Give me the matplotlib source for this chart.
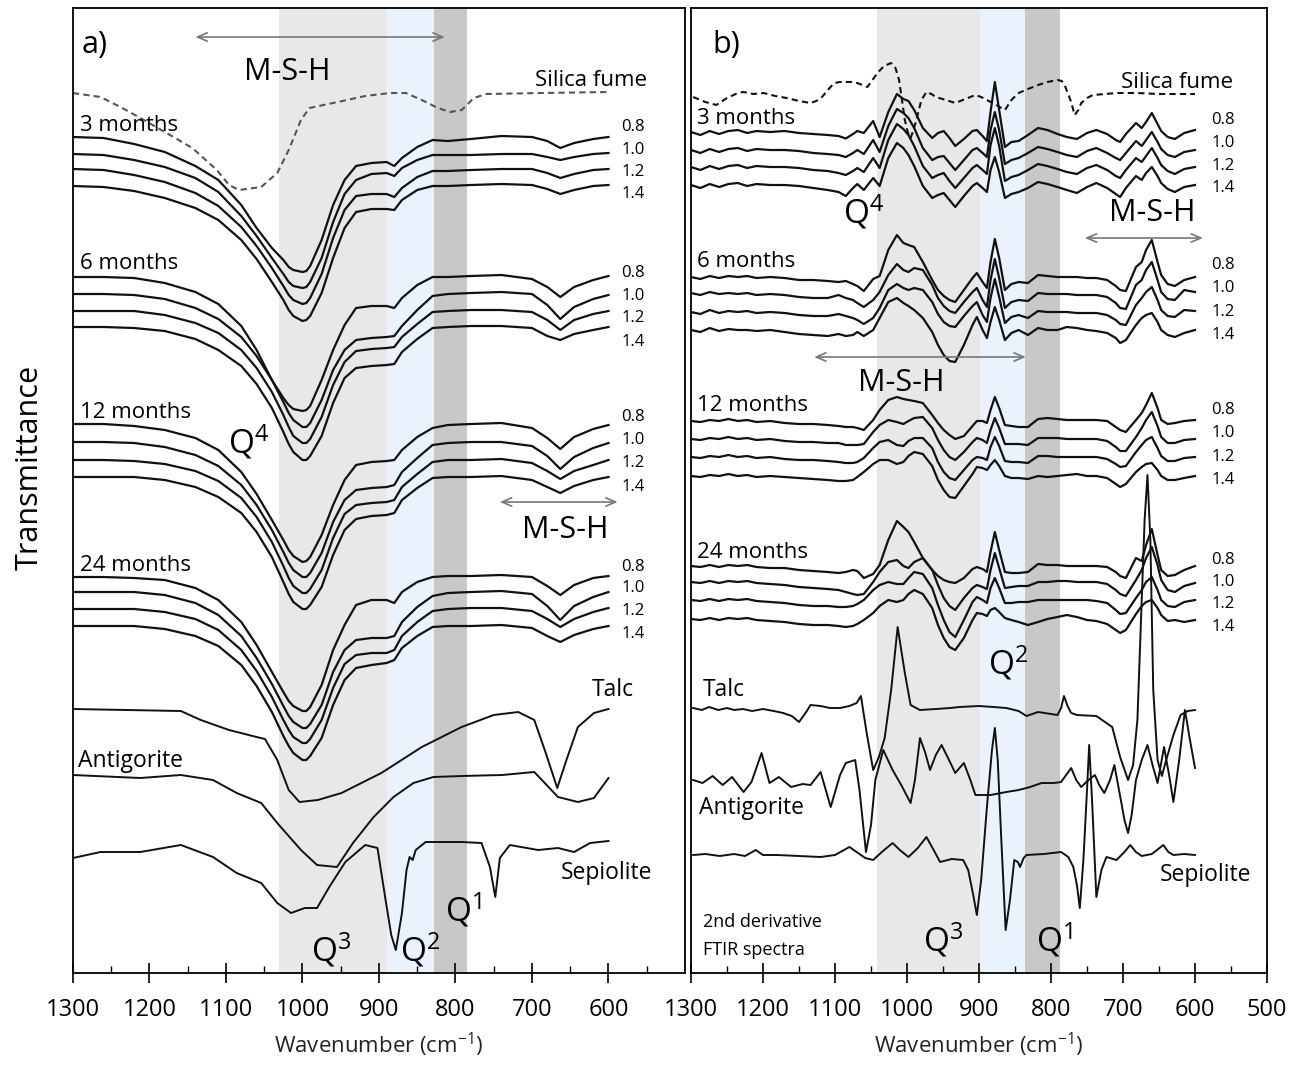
import matplotlib
matplotlib.use("Agg")
import matplotlib.pyplot as plt

plt.rcParams['font.family'] = ['Open Sans', 'DejaVu Sans']
plt.rcParams['mathtext.fontset'] = 'custom'
plt.rcParams['mathtext.rm'] = 'Open Sans'
plt.rcParams['mathtext.it'] = 'Open Sans:italic'
plt.rcParams['mathtext.bf'] = 'Open Sans:bold'
plt.rcParams['lines.solid_joinstyle'] = 'round'
plt.rcParams['lines.dash_joinstyle'] = 'round'

# ---------------------------------------------------------------
# stacked spectra, offset units grow downwards (y axis is inverted)
# ---------------------------------------------------------------

## a) FTIR spectra, common wavenumber grid
wn_a = [1300, 1260, 1220, 1180, 1140, 1110, 1080, 1060, 1040, 1025, 1018, 1012, 1000, 995, 990, 975,
        960, 945, 930, 910, 890, 880, 870, 850, 830, 810, 780, 740, 700, 680, 663, 645, 620, 600]

a_3m_08 = [137, 138, 144, 152, 166, 180, 205, 228, 248, 260, 267, 270, 272, 271, 266, 240,
           205, 180, 166, 163, 162, 166, 158, 147, 140, 141, 139, 136, 137, 141, 148, 143, 139, 137]
a_3m_10 = [154, 155, 160, 167, 178, 192, 216, 236, 258, 274, 282, 286, 288, 287, 282, 258,
           222, 194, 180, 174, 173, 176, 168, 160, 155, 155, 155, 154, 154, 157, 160, 157, 154, 153]
a_3m_12 = [169, 170, 175, 182, 193, 206, 227, 246, 268, 286, 295, 300, 304, 303, 298, 274,
           238, 210, 196, 194, 194, 197, 188, 177, 171, 171, 170, 169, 169, 173, 178, 174, 170, 169]
a_3m_14 = [186, 187, 191, 198, 208, 220, 240, 259, 282, 300, 310, 316, 321, 320, 316, 293,
           258, 228, 212, 209, 209, 210, 200, 190, 186, 186, 185, 184, 185, 189, 194, 190, 186, 185]

a_6m_08 = [277, 277, 278, 283, 292, 304, 326, 350, 380, 398, 405, 409, 411, 410, 406, 380,
           350, 325, 308, 306, 306, 308, 298, 285, 277, 277, 276, 275, 279, 287, 297, 287, 280, 276]
a_6m_10 = [294, 294, 295, 299, 308, 319, 337, 356, 380, 402, 413, 420, 427, 427, 423, 400,
           370, 350, 340, 338, 337, 336, 326, 310, 296, 294, 293, 292, 294, 305, 319, 307, 299, 295]
a_6m_12 = [311, 311, 311, 315, 323, 333, 350, 368, 392, 415, 427, 436, 443, 443, 439, 417,
           385, 362, 351, 349, 348, 347, 337, 324, 312, 311, 310, 310, 312, 320, 330, 320, 314, 311]
a_6m_14 = [327, 327, 328, 331, 339, 350, 366, 384, 408, 432, 444, 452, 460, 460, 456, 436,
           403, 378, 368, 366, 365, 364, 352, 339, 328, 327, 326, 326, 328, 336, 340, 334, 330, 327]

a_12m_08 = [424, 424, 426, 430, 438, 450, 472, 494, 520, 540, 550, 556, 562, 561, 557, 535,
            505, 480, 465, 462, 461, 460, 450, 437, 428, 425, 424, 423, 428, 438, 449, 437, 429, 425]
a_12m_10 = [442, 442, 443, 447, 455, 466, 485, 505, 530, 552, 563, 570, 577, 577, 573, 553,
            522, 500, 490, 488, 487, 485, 472, 458, 445, 443, 442, 442, 446, 456, 469, 457, 448, 443]
a_12m_12 = [460, 460, 461, 464, 471, 481, 498, 517, 542, 566, 578, 586, 593, 593, 589, 570,
            538, 514, 505, 503, 502, 500, 487, 474, 462, 460, 460, 459, 463, 471, 479, 471, 465, 460]
a_12m_14 = [477, 477, 477, 480, 487, 497, 513, 532, 557, 582, 594, 602, 609, 609, 605, 587,
            555, 530, 519, 516, 515, 513, 500, 488, 478, 477, 477, 476, 480, 487, 493, 486, 480, 477]

a_24m_08 = [577, 577, 578, 580, 588, 600, 622, 645, 672, 692, 701, 706, 711, 711, 707, 685,
            650, 625, 605, 600, 600, 603, 592, 582, 577, 576, 576, 575, 577, 586, 595, 585, 578, 576]
a_24m_10 = [592, 592, 592, 595, 603, 615, 636, 658, 684, 706, 716, 722, 728, 728, 724, 705,
            672, 650, 640, 638, 638, 636, 622, 607, 596, 593, 592, 591, 594, 606, 620, 606, 597, 592]
a_24m_12 = [609, 609, 609, 612, 619, 630, 650, 671, 697, 720, 730, 737, 743, 743, 739, 720,
            688, 664, 655, 653, 653, 650, 636, 622, 611, 609, 608, 608, 611, 619, 627, 619, 612, 608]
a_24m_14 = [626, 626, 626, 629, 636, 646, 665, 686, 712, 736, 746, 753, 760, 760, 756, 738,
            705, 680, 668, 665, 663, 660, 648, 636, 627, 626, 626, 625, 628, 636, 642, 635, 629, 626]

# silica fume (dashed)
wn_a_sf = [1300, 1264, 1238, 1212, 1180, 1144, 1112, 1096, 1083, 1054, 1033, 1018, 1002, 991, 960,
           918, 886, 865, 844, 823, 807, 792, 776, 760, 687, 600]
a_sf = [93, 97, 107, 118, 132, 148, 170, 185, 190, 187, 173, 150, 120, 108, 103,
        96, 93, 93, 100, 108, 112, 110, 98, 94, 93, 92]

# reference minerals
wn_a_talc = [1300, 1159, 1133, 1096, 1060, 1049, 1033, 1018, 1004, 980, 949, 897, 844, 792, 750,
             718, 697, 682, 667, 655, 640, 619, 600]
a_talc = [709, 711, 720, 730, 737, 739, 760, 790, 802, 800, 793, 773, 747, 727, 715,
          712, 720, 753, 788, 760, 727, 713, 709]

wn_a_anti = [1300, 1212, 1159, 1117, 1086, 1054, 1033, 1002, 981, 955, 934, 907, 881, 855, 829,
             792, 739, 697, 666, 640, 619, 600]
a_anti = [775, 778, 775, 780, 793, 803, 823, 850, 865, 867, 843, 817, 797, 783, 777,
          776, 775, 772, 797, 802, 798, 778]

wn_a_sep = [1300, 1264, 1212, 1159, 1117, 1086, 1054, 1033, 1015, 997, 981, 965, 944, 918, 902,
            892, 884, 878, 870, 864, 860, 856, 852, 839, 792, 766, 755, 748, 742, 729, 692,
            666, 645, 624, 600]
a_sep = [858, 852, 852, 845, 857, 873, 883, 903, 913, 908, 908, 887, 862, 845, 848,
         897, 935, 950, 913, 870, 857, 860, 850, 842, 842, 843, 867, 897, 858, 845, 850,
         848, 852, 843, 841]

## b) 2nd derivative spectra, common wavenumber grid
wn_b = [1300, 1287, 1274, 1261, 1248, 1235, 1222, 1209, 1190, 1170, 1150, 1130, 1110, 1095, 1085,
        1075, 1069, 1060, 1047, 1038, 1026, 1014, 1005, 998, 990, 978, 965, 957, 949, 941, 933,
        921, 909, 903, 895, 889, 884, 878, 872, 864, 855, 845, 832, 818, 805, 791, 778, 764,
        750, 737, 722, 710, 704, 696, 682, 674, 668, 660, 652, 647, 638, 628, 615, 600]

b_3m_08 = [132, 135, 131, 134, 131, 130, 133, 131, 132, 131, 133, 134, 135, 136, 138.5,
           134, 131, 133, 121, 137, 112, 94, 99, 101, 110, 128, 138, 133, 131, 138, 146,
           139, 131, 130, 136, 141, 112, 82, 110, 147, 142, 141, 135, 128, 130, 134, 137, 139,
           133, 130, 134, 140, 142, 134, 123, 128, 122, 113, 124, 131, 137, 139, 133, 130]
b_3m_10 = [150, 153, 149, 152, 149, 148, 151, 149, 150, 150, 151, 153, 154, 155, 157,
           153, 150, 154, 140, 152, 126, 109, 113, 118, 128, 148, 160, 157, 156, 163, 170,
           160, 150, 148, 153, 157, 130, 112, 130, 164, 160, 158, 153, 147, 149, 152, 155, 157,
           151, 148, 153, 158, 160, 153, 141, 146, 140, 132, 142, 149, 155, 157, 152, 150]
b_3m_12 = [167, 170, 166, 169, 166, 165, 168, 166, 167, 167, 168, 170, 171, 173, 175,
           171, 168, 172, 158, 168, 140, 124, 129, 135, 146, 166, 178, 175, 173, 181, 188,
           178, 168, 165, 170, 174, 145, 128, 146, 181, 177, 175, 170, 164, 166, 169, 172, 174,
           168, 165, 170, 176, 178, 170, 158, 162, 156, 148, 158, 165, 171, 174, 169, 167]
b_3m_14 = [185, 188, 184, 187, 184, 183, 186, 184, 185, 185, 186, 188, 190, 192, 196,
           188, 184, 190, 178, 186, 158, 143, 148, 155, 166, 186, 198, 195, 193, 200, 207,
           196, 186, 183, 188, 192, 170, 157, 172, 198, 194, 192, 188, 182, 184, 187, 190, 193,
           187, 183, 188, 194, 197, 188, 176, 180, 173, 167, 176, 183, 189, 192, 187, 185]

b_6m_08 = [277, 279, 276, 278, 276, 277, 276, 278, 277, 278, 280, 280, 281, 282, 281,
           284, 286, 291, 279, 276, 250, 235, 243, 245, 247, 262, 280, 290, 296, 300, 302,
           290, 278, 273, 282, 288, 262, 239, 258, 290, 284, 282, 283, 275, 276, 277, 277, 277,
           278, 278, 280, 286, 290, 291, 267, 262, 250, 240, 262, 275, 284, 286, 280, 277]
b_6m_10 = [293, 295, 292, 294, 293, 294, 293, 295, 294, 295, 297, 298, 298, 295, 298,
           300, 303, 307, 300, 292, 275, 264, 270, 272, 268, 270, 285, 298, 306, 311, 313,
           302, 292, 288, 300, 307, 280, 259, 278, 308, 302, 300, 301, 293, 294, 294, 294, 295,
           295, 295, 297, 303, 308, 309, 285, 280, 270, 262, 280, 292, 299, 300, 290, 292]
b_6m_12 = [312, 314, 310, 313, 311, 312, 311, 313, 312, 313, 315, 316, 316, 314, 316,
           318, 320, 324, 318, 308, 290, 284, 288, 290, 288, 290, 302, 314, 322, 326, 327,
           316, 306, 302, 315, 322, 298, 279, 297, 323, 317, 315, 318, 311, 312, 312, 312, 313,
           313, 313, 315, 320, 324, 325, 305, 298, 292, 287, 300, 310, 316, 317, 310, 311]
b_6m_14 = [330, 332, 328, 331, 329, 330, 330, 331, 330, 332, 334, 335, 336, 334, 336,
           335, 332, 336, 330, 318, 302, 298, 303, 306, 310, 318, 332, 345, 355, 361, 362,
           345, 325, 317, 330, 338, 322, 307, 320, 340, 333, 330, 335, 328, 330, 330, 327, 328,
           330, 331, 333, 338, 343, 340, 325, 318, 315, 313, 322, 330, 335, 337, 333, 330]

b_12m_08 = [421, 422, 420, 421, 419, 421, 420, 422, 421, 423, 424, 424, 425, 426, 427,
            427, 428, 430, 420, 410, 400, 397, 399, 400, 401, 403, 415, 423, 430, 435, 439,
            436, 426, 421, 421, 423, 410, 397, 408, 425, 426, 427, 427, 419, 418, 419, 420, 420,
            420, 420, 421, 427, 430, 432, 420, 413, 405, 393, 408, 420, 424, 423, 421, 420]
b_12m_10 = [439, 440, 438, 439, 437, 439, 438, 440, 439, 441, 442, 442, 443, 443, 445,
            445, 445, 444, 432, 425, 420, 422, 424, 421, 418, 417, 428, 440, 450, 457, 460,
            452, 442, 438, 440, 443, 430, 418, 428, 444, 444, 444, 445, 438, 438, 438, 439, 439,
            439, 439, 441, 447, 451, 451, 437, 428, 420, 412, 426, 437, 443, 443, 440, 439]
b_12m_12 = [457, 458, 456, 457, 455, 457, 456, 458, 457, 459, 460, 460, 461, 462, 463,
            463, 462, 458, 448, 442, 440, 445, 446, 441, 438, 438, 448, 462, 472, 478, 480,
            470, 460, 457, 458, 460, 447, 437, 446, 461, 462, 462, 463, 456, 456, 457, 457, 457,
            457, 457, 459, 464, 467, 466, 452, 445, 440, 437, 448, 456, 461, 461, 458, 457]
b_12m_14 = [476, 477, 475, 476, 474, 476, 475, 477, 476, 477, 478, 479, 480, 481, 481,
            480, 477, 472, 464, 460, 460, 464, 462, 456, 452, 454, 466, 480, 490, 497, 498,
            486, 474, 467, 468, 470, 465, 460, 466, 476, 478, 478, 479, 476, 477, 476, 475, 474,
            476, 476, 478, 484, 487, 484, 472, 467, 464, 463, 470, 476, 480, 480, 478, 476]

b_24m_08 = [566, 567, 565, 567, 565, 566, 565, 567, 568, 568, 570, 571, 572, 573, 572,
            570, 571, 578, 574, 565, 540, 521, 527, 532, 542, 558, 570, 576, 580, 582, 583,
            578, 569, 567, 569, 572, 552, 532, 550, 572, 573, 573, 572, 564, 565, 565, 566, 566,
            566, 566, 567, 572, 576, 578, 558, 561, 545, 529, 555, 570, 576, 575, 570, 566]
b_24m_10 = [582, 583, 581, 583, 581, 582, 581, 583, 584, 585, 587, 588, 589, 590, 592,
            594, 595, 594, 582, 572, 562, 560, 566, 568, 562, 558, 570, 585, 598, 606, 610,
            598, 588, 585, 587, 589, 570, 553, 568, 588, 587, 586, 586, 582, 582, 581, 581, 582,
            582, 582, 584, 590, 594, 596, 580, 570, 558, 547, 565, 580, 590, 592, 586, 583]
b_24m_12 = [600, 601, 599, 601, 599, 600, 599, 601, 602, 603, 605, 606, 606, 607, 607,
            606, 604, 600, 590, 585, 582, 584, 584, 578, 572, 574, 588, 605, 620, 632, 637,
            620, 602, 597, 600, 603, 588, 578, 588, 603, 603, 602, 602, 600, 600, 600, 600, 600,
            600, 601, 603, 610, 614, 613, 598, 590, 582, 577, 590, 600, 606, 607, 602, 600]
b_24m_14 = [619, 620, 618, 620, 618, 619, 618, 620, 621, 622, 624, 625, 625, 626, 627,
            626, 624, 620, 613, 606, 600, 602, 600, 594, 590, 594, 608, 625, 638, 647, 650,
            638, 620, 613, 614, 616, 610, 608, 612, 618, 620, 622, 625, 622, 619, 617, 615, 617,
            620, 621, 624, 630, 633, 630, 614, 606, 602, 600, 608, 615, 621, 620, 622, 620]

wn_b_sf = [1297, 1280, 1265, 1250, 1235, 1227, 1213, 1199, 1183, 1167, 1150, 1134, 1126, 1118, 1110,
           1101, 1093, 1085, 1077, 1069, 1062, 1055, 1048, 1041, 1032, 1022, 1016, 1011, 1007, 1003,
           999, 995, 991, 987, 980, 973, 966, 960, 946, 933, 919, 905, 897, 889, 876, 864, 855,
           845, 832, 818, 805, 791, 785, 780, 773, 767, 762, 758, 750, 742, 725, 709, 680, 650,
           620, 600]
b_sf = [97, 102, 105, 98, 93, 92, 94, 93, 96, 98, 101, 103, 101, 97, 90,
        83, 82, 82, 82, 83, 85, 87, 80, 73, 66, 63, 68, 80, 100, 120,
        132, 138, 130, 120, 100, 92, 94, 97, 100, 103, 99, 95, 97, 100, 105, 110, 100,
        93, 89, 85, 82, 80, 81, 87, 100, 115, 110, 103, 98, 95, 94, 93, 93, 94,
        94, 94]

wn_b_talc = [1297, 1285, 1275, 1262, 1250, 1240, 1228, 1215, 1200, 1185, 1172, 1160, 1150, 1140, 1134,
             1120, 1107, 1093, 1080, 1070, 1064, 1056, 1047, 1039, 1031, 1022, 1017, 1013, 1008, 1003,
             995, 982, 960, 940, 927, 900, 880, 862, 845, 834, 818, 800, 791, 786, 782, 777, 772,
             764, 737, 715, 704, 693, 686, 680, 674, 670, 666, 662, 658, 652, 646, 640, 630, 620,
             610, 600]
b_talc = [708, 710, 707, 710, 708, 710, 709, 711, 709, 711, 713, 716, 722, 712, 705,
          706, 708, 708, 706, 703, 696, 733, 770, 757, 738, 690, 655, 627, 650, 673,
          705, 710, 709, 708, 707, 706, 707, 708, 711, 716, 712, 714, 715, 708, 696, 706, 713,
          715, 716, 727, 757, 780, 765, 720, 600, 520, 475, 540, 690, 760, 776, 760, 735, 715,
          711, 710]

wn_b_anti = [1297, 1284, 1270, 1256, 1243, 1227, 1216, 1202, 1191, 1178, 1161, 1145, 1134, 1120, 1106,
             1093, 1085, 1072, 1066, 1057, 1050, 1044, 1033, 1020, 1008, 995, 989, 982, 975, 968,
             960, 952, 943, 933, 921, 912, 905, 884, 862, 845, 829, 813, 796, 786, 779, 772, 765,
             758, 748, 739, 733, 726, 718, 712, 703, 698, 693, 688, 682, 674, 666, 659, 652, 643,
             636, 630, 622, 614, 607, 600]
b_anti = [780, 783, 776, 785, 777, 792, 782, 753, 783, 777, 787, 784, 785, 772, 807,
          775, 763, 760, 790, 852, 825, 780, 750, 770, 785, 803, 780, 738, 752, 770,
          755, 745, 758, 773, 763, 780, 795, 795, 792, 790, 787, 783, 783, 782, 775, 768, 780,
          787, 780, 775, 785, 793, 780, 765, 800, 820, 833, 815, 780, 760, 745, 765, 783, 747,
          775, 802, 760, 710, 740, 768]

wn_b_sep = [1297, 1280, 1260, 1240, 1225, 1210, 1200, 1180, 1150, 1120, 1100, 1080, 1068, 1058, 1047,
            1035, 1020, 1010, 998, 985, 973, 963, 954, 938, 922, 915, 908, 903, 897, 889,
            882, 878, 874, 869, 863, 857, 851, 846, 843, 838, 834, 810, 786, 776, 769, 764, 760,
            755, 750, 747, 743, 737, 730, 723, 709, 698, 690, 682, 674, 660, 651, 644, 637, 630,
            615, 600]
b_sep = [855, 854, 856, 854, 856, 850, 855, 855, 856, 857, 855, 847, 853, 858, 860,
         852, 843, 850, 857, 848, 837, 850, 862, 859, 860, 870, 895, 915, 880, 807,
         750, 728, 760, 840, 930, 900, 860, 862, 867, 858, 855, 854, 852, 857, 867, 885, 908,
         860, 790, 745, 800, 897, 870, 857, 860, 852, 845, 852, 856, 854, 849, 845, 852, 855,
         854, 855]

ratios = ['0.8', '1.0', '1.2', '1.4']
ages = ['3 months', '6 months', '12 months', '24 months']

a_groups = [[a_3m_08, a_3m_10, a_3m_12, a_3m_14],
            [a_6m_08, a_6m_10, a_6m_12, a_6m_14],
            [a_12m_08, a_12m_10, a_12m_12, a_12m_14],
            [a_24m_08, a_24m_10, a_24m_12, a_24m_14]]
b_groups = [[b_3m_08, b_3m_10, b_3m_12, b_3m_14],
            [b_6m_08, b_6m_10, b_6m_12, b_6m_14],
            [b_12m_08, b_12m_10, b_12m_12, b_12m_14],
            [b_24m_08, b_24m_10, b_24m_12, b_24m_14]]

# Qn band limits (cm-1)
bands_a = [(1031, 889, '#e8e8e8'), (889, 828, '#eaf3fb'), (828, 785, '#c9c7c7')]
bands_b = [(1041, 899, '#e8e8e8'), (899, 836, '#eaf3fb'), (836, 788, '#c9c7c7')]

# label rows for the ratio tags
tag_rows_a = [[127, 150, 172, 194], [273, 296, 318, 342], [417, 440, 463, 487], [567, 588, 611, 634]]
tag_rows_b = [[120, 143, 166, 188], [265, 288, 312, 335], [410, 433, 457, 480], [560, 582, 604, 627]]
age_rows_a = [125, 263, 412, 565]
age_rows_b = [118, 261, 405, 552]

fig = plt.figure(figsize=(13, 10.65), dpi=100)
axA = fig.add_axes([0.05615, 0.08638, 0.47077, 0.90610])
axB = fig.add_axes([0.53154, 0.08638, 0.44308, 0.90610])

for ax, bands in ((axA, bands_a), (axB, bands_b)):
    for hi, lo, col in bands:
        ax.axvspan(lo, hi, color=col, lw=0, zorder=0)
    ax.set_xlim(1300, 500)
    ax.set_ylim(973, 8)
    ax.set_yticks([])
    for s in ax.spines.values():
        s.set_linewidth(1.3)
    ax.tick_params(axis='x', which='major', direction='inout', length=14, width=1.2,
                   labelsize=17, pad=11)
    ax.tick_params(axis='x', which='minor', direction='in', length=5, width=1.0)
    ax.set_xlabel('Wavenumber (cm$^{-1}$)', fontsize=16, labelpad=6, color='#222')

axA.set_xticks(range(1300, 599, -100))
axA.set_xticks(range(1250, 549, -100), minor=True)
axB.set_xticks(range(1300, 499, -100))
axB.set_xticks(range(1250, 549, -100), minor=True)

arrow = dict(arrowstyle='<->,head_length=0.7,head_width=0.3', color='#777777', lw=1.2,
             shrinkA=0, shrinkB=0)

# ---- panel a ----
axA.plot(wn_a_sf, a_sf, color='#555555', lw=1.5, ls=(0, (3, 2)))
for g, group in enumerate(a_groups):
    for r, trace in enumerate(group):
        axA.plot(wn_a, trace, color='#111111', lw=1.6)
        axA.text(568, tag_rows_a[g][r], ratios[r], fontsize=12, ha='center', va='center')
    axA.text(1291, age_rows_a[g], ages[g], fontsize=16, ha='left', va='center')
axA.plot(wn_a_talc, a_talc, color='#111111', lw=1.4)
axA.plot(wn_a_anti, a_anti, color='#111111', lw=1.4)
axA.plot(wn_a_sep, a_sep, color='#111111', lw=1.4)

axA.text(1289, 45, 'a)', fontsize=22, ha='left', va='center')
axA.annotate('', xy=(1140, 37), xytext=(814, 37), arrowprops=arrow)
axA.text(1020, 72, 'M-S-H', fontsize=22, ha='center', va='center')
axA.text(550, 80, 'Silica fume', fontsize=16, ha='right', va='center')
axA.text(1071, 442, 'Q$^{4}$', fontsize=24, ha='center', va='center')
axA.annotate('', xy=(742, 502), xytext=(588, 502), arrowprops=arrow)
axA.text(657, 530, 'M-S-H', fontsize=22, ha='center', va='center')
axA.text(594, 690, 'Talc', fontsize=16.5, ha='center', va='center')
axA.text(1293, 761, 'Antigorite', fontsize=16.5, ha='left', va='center')
axA.text(603, 873, 'Sepiolite', fontsize=16.5, ha='center', va='center')
axA.text(962, 950, 'Q$^{3}$', fontsize=24, ha='center', va='center')
axA.text(846, 950, 'Q$^{2}$', fontsize=24, ha='center', va='center')
axA.text(790, 910, 'Q$^{1}$', fontsize=24, ha='center', va='center')

# ---- panel b ----
axB.plot(wn_b_sf, b_sf, color='#111111', lw=1.5, ls=(0, (3, 2)))
for g, group in enumerate(b_groups):
    for r, trace in enumerate(group):
        axB.plot(wn_b, trace, color='#111111', lw=1.6)
        axB.text(561, tag_rows_b[g][r], ratios[r], fontsize=12, ha='center', va='center')
    axB.text(1292, age_rows_b[g], ages[g], fontsize=16, ha='left', va='center')
axB.plot(wn_b_talc, b_talc, color='#111111', lw=1.4)
axB.plot(wn_b_anti, b_anti, color='#111111', lw=1.4)
axB.plot(wn_b_sep, b_sep, color='#111111', lw=1.4)

axB.text(1271, 45, 'b)', fontsize=22, ha='left', va='center')
axB.text(625, 82, 'Silica fume', fontsize=16, ha='center', va='center')
axB.text(1060, 212, 'Q$^{4}$', fontsize=24, ha='center', va='center')
axB.text(660, 213, 'M-S-H', fontsize=22, ha='center', va='center')
axB.annotate('', xy=(753, 238), xytext=(589, 238), arrowprops=arrow)
axB.annotate('', xy=(1129, 357), xytext=(835, 357), arrowprops=arrow)
axB.text(1008, 383, 'M-S-H', fontsize=22, ha='center', va='center')
axB.text(860, 663, 'Q$^{2}$', fontsize=24, ha='center', va='center')
axB.text(1283, 690, 'Talc', fontsize=16.5, ha='left', va='center')
axB.text(1289, 808, 'Antigorite', fontsize=16.5, ha='left', va='center')
axB.text(585, 875, 'Sepiolite', fontsize=16.5, ha='center', va='center')
axB.text(1283, 922, '2nd derivative', fontsize=13, ha='left', va='center')
axB.text(1283, 950, 'FTIR spectra', fontsize=13, ha='left', va='center')
axB.text(950, 940, 'Q$^{3}$', fontsize=24, ha='center', va='center')
axB.text(796, 940, 'Q$^{1}$', fontsize=24, ha='center', va='center')

fig.text(30 / 1300, 1 - 467 / 1065, 'Transmittance', rotation=90, fontsize=22,
         ha='center', va='center')

fig.savefig('out.png', dpi=100)
